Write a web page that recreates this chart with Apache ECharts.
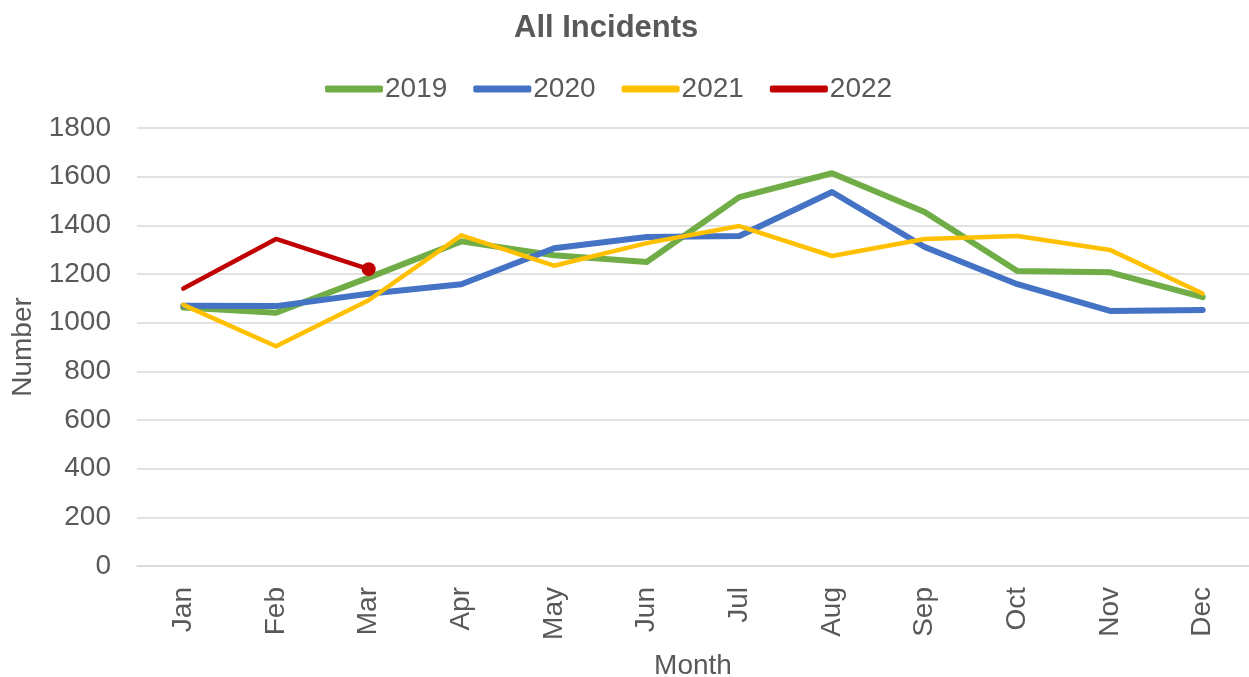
<!DOCTYPE html>
<html>
<head>
<meta charset="utf-8">
<script src="https://cdn.jsdelivr.net/npm/echarts@6/dist/echarts.min.js"></script>
<style>
html,body{margin:0;padding:0;background:#fff;}
#chart{width:1249px;height:677px;}
</style>
</head>
<body>
<div id="chart"></div>
<script>
const months = ['Jan','Feb','Mar','Apr','May','Jun','Jul','Aug','Sep','Oct','Nov','Dec'];
const seriesNames = ['2019','2020','2021','2022'];
const y2019 = [1062, 1041, 1185, 1334, 1277, 1249, 1516, 1614, 1455, 1212, 1207, 1105];
const y2020 = [1070, 1068, 1119, 1158, 1306, 1352, 1356, 1537, 1311, 1158, 1048, 1052];
const y2021 = [1073, 903, 1092, 1359, 1234, 1327, 1397, 1274, 1344, 1356, 1299, 1120];
const y2022 = [1140, 1344, 1220];

const colors = ['#70AD47','#4472C4','#FFC000','#C00000'];
const widths = [6, 6, 4.5, 4.5];
const txt = '#595959';
const font = '"Liberation Sans", Arial, sans-serif';

const allData = [y2019, y2020, y2021, y2022];

const series = allData.map((d, i) => {
  let data = d;
  if (i === 3) {
    data = d.map((v, k) => k === d.length - 1 ? {value: v, symbol: 'circle', symbolSize: 14} : v);
  }
  return {
    name: seriesNames[i],
    type: 'line',
    data: data,
    symbol: 'none',
    color: colors[i],
    lineStyle: {width: widths[i], color: colors[i], cap: 'round', join: 'round'},
    itemStyle: {color: colors[i]},
    emphasis: {disabled: true},
    animation: false,
    z: 2 + i
  };
});

const chart = echarts.init(document.getElementById('chart'), null, {renderer: 'canvas'});
chart.setOption({
  animation: false,
  backgroundColor: '#fff',
  textStyle: {fontFamily: font},
  title: {
    text: 'All Incidents',
    left: 509,
    top: 8,
    textStyle: {fontFamily: font, fontSize: 31, fontWeight: 'bold', color: txt}
  },
  legend: {
    data: seriesNames.map((n, i) => ({name: n, icon: 'roundRect', itemStyle: {color: colors[i]}})),
    left: 320,
    top: 70,
    itemWidth: 58,
    itemHeight: 7,
    itemGap: 26,
    textStyle: {fontFamily: font, fontSize: 28, color: txt, padding: [0,0,0,-3]}
  },
  grid: {left: 137, right: 0, top: 128, bottom: 111, containLabel: false, outerBoundsMode: 'none'},
  xAxis: {
    type: 'category',
    data: months,
    boundaryGap: true,
    name: 'Month',
    nameLocation: 'middle',
    nameGap: 86,
    nameTextStyle: {fontFamily: font, fontSize: 28, color: txt, verticalAlign: 'top'},
    axisLine: {show: true, lineStyle: {color: '#D9D9D9', width: 1.5}},
    axisTick: {show: false},
    axisLabel: {rotate: 90, margin: 21, fontFamily: font, fontSize: 28, color: txt}
  },
  yAxis: {
    type: 'value',
    min: 0,
    max: 1800,
    interval: 200,
    name: 'Number',
    nameLocation: 'middle',
    nameGap: 100,
    nameTextStyle: {fontFamily: font, fontSize: 28, color: txt},
    axisLine: {show: false},
    axisTick: {show: false},
    axisLabel: {margin: 26, fontFamily: font, fontSize: 28, color: txt, formatter: v => String(v)},
    splitLine: {show: true, lineStyle: {color: '#D9D9D9', width: 1.5}}
  },
  series: series
});
</script>
</body>
</html>
